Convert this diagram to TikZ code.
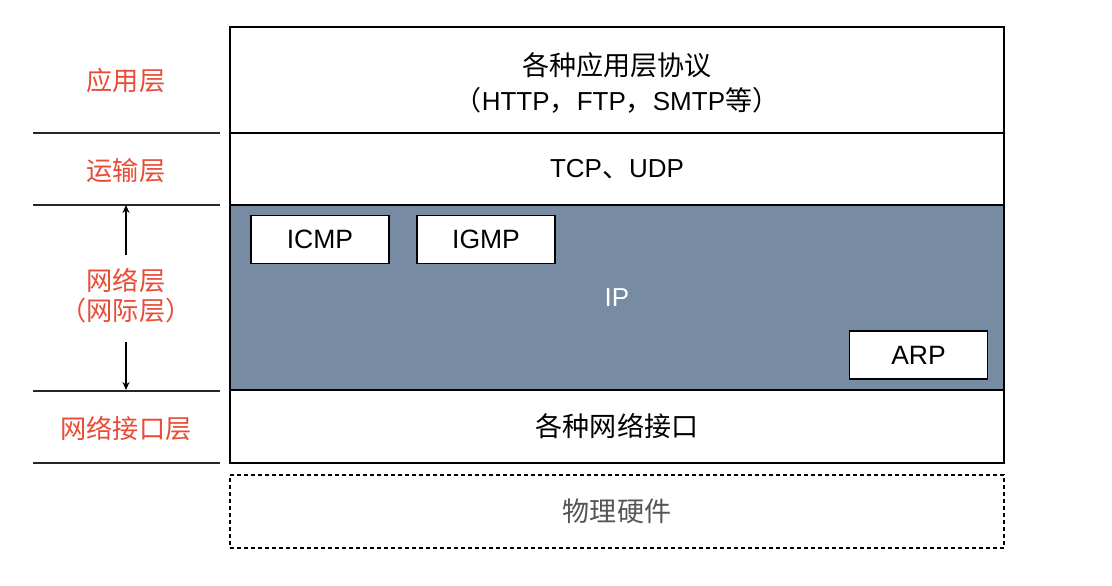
\documentclass[tikz,border=0pt]{standalone}
\usepackage{fontspec}
\setmainfont{Liberation Sans}
\newfontfamily\cjk[Scale=1.04]{Noto Sans CJK SC}
\usetikzlibrary{arrows.meta}
\definecolor{lbl}{HTML}{E94B35}
\definecolor{ipfill}{HTML}{778CA3}
\definecolor{hw}{HTML}{555555}
\tikzset{
  x=1pt, y=-1pt,
  layer/.style={draw=black, line width=1.6pt, minimum width=774pt, inner sep=0pt, font=\fontsize{26}{35}\selectfont},
  sub/.style={draw=black, fill=white, line width=1.6pt, minimum width=138pt, minimum height=48pt, inner sep=0pt, font=\fontsize{26.5}{30}\selectfont},
  side/.style={text=lbl, align=center, font=\fontsize{25.2}{30}\selectfont\cjk},
  sep/.style={draw=black!85, line width=1.6pt},
  arr/.style={draw=black, line width=1.2pt, -{Stealth[length=8pt,width=7pt]}}
}
\begin{document}
\begin{tikzpicture}
\useasboundingbox (0,0) rectangle (1112,586);
% layer stack
\node[layer, minimum height=106pt] (app) at (617,80) {};
\node[align=center, font=\fontsize{26}{35}\selectfont, inner sep=0pt] (apptext) at (617,83) {{\cjk 各种应用层协议}\\{\cjk （}HTTP{\cjk ，}FTP{\cjk ，}SMTP{\cjk 等）}};
\node[layer, minimum height=72pt] (tr) at (617,169) {TCP{\cjk 、}UDP};
\node[layer, minimum height=185pt, fill=ipfill, text=white] (net) at (617,297.5) {IP};
\node[layer, minimum height=73pt] (link) at (617,426.5) {\cjk 各种网络接口};
\node[layer, minimum height=73pt, dashed, dash pattern=on 4pt off 3pt, line width=1.3pt, text=hw] (phys) at (617,511.5) {\cjk 物理硬件};
% sub-protocols
\node[sub] (icmp) at (320,239.5) {ICMP};
\node[sub] (igmp) at (486,239.5) {IGMP};
\node[sub] (arp) at (918.5,355) {ARP};
% left labels
\node[side] (lapp) at (126,81) {应用层};
\node[side] (ltr) at (126,171) {运输层};
\node[side] (lnet) at (126,296) {网络层\\（网际层）};
\node[side] (llink) at (126,428) {网络接口层};
% separators
\coordinate (s1a) at (33,133); \coordinate (s1b) at (220,133);
\coordinate (s2a) at (33,205); \coordinate (s2b) at (220,205);
\coordinate (s3a) at (33,391); \coordinate (s3b) at (220,391);
\coordinate (s4a) at (33,463); \coordinate (s4b) at (220,463);
\draw[sep] (s1a) -- (s1b);
\draw[sep] (s2a) -- (s2b);
\draw[sep] (s3a) -- (s3b);
\draw[sep] (s4a) -- (s4b);
% arrows
\coordinate (upstart) at (126,255);
\coordinate (downend) at (126,390);
\coordinate (downstart) at (126,342);
\coordinate (upend) at (126,205);
\draw[arr] (upstart) -- (upend);
\draw[arr] (downstart) -- (downend);
\end{tikzpicture}
\end{document}
